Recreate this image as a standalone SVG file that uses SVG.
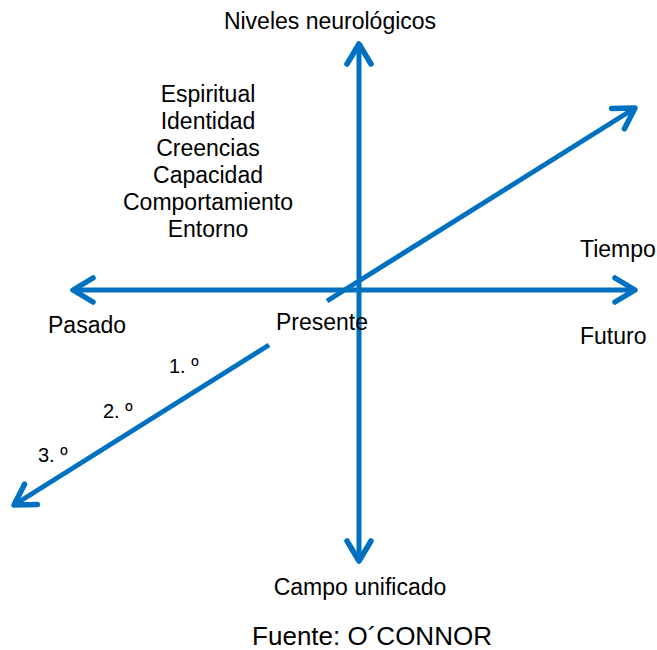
<svg xmlns="http://www.w3.org/2000/svg" width="657" height="650" viewBox="0 0 657 650">
<defs>
<style>
.ax{stroke:#0070C0;stroke-width:5;fill:none;stroke-linecap:butt}
.t{font-family:"Liberation Sans",Arial,sans-serif;font-size:23px;fill:#000}
.n{font-family:"Liberation Sans",Arial,sans-serif;font-size:20px;fill:#000}
</style>
<marker id="ah" markerUnits="userSpaceOnUse" viewBox="-26 -15 30 30" refX="0" refY="0" markerWidth="30" markerHeight="30" orient="auto-start-reverse">
<path d="M-20,-12 L0,0 L-20,12" fill="none" stroke="#0070C0" stroke-width="5.5" stroke-linejoin="round" stroke-linecap="round"/>
</marker>
</defs>
<rect width="657" height="650" fill="#fff"/>
<g id="connectors">
<line class="ax" x1="359" y1="561" x2="359" y2="44" marker-start="url(#ah)" marker-end="url(#ah)"/>
<line class="ax" x1="73" y1="290" x2="635" y2="290" marker-start="url(#ah)" marker-end="url(#ah)"/>
<line class="ax" x1="327" y1="301" x2="635" y2="108" marker-end="url(#ah)"/>
<line class="ax" x1="269" y1="345" x2="14" y2="505" marker-end="url(#ah)"/>
</g>
<g id="niveles"><text class="t" x="330" y="29" text-anchor="middle">Niveles neurológicos</text></g>
<g id="lista">
<text class="t" x="208" y="102" text-anchor="middle">Espiritual</text>
<text class="t" x="208" y="129" text-anchor="middle">Identidad</text>
<text class="t" x="208" y="156" text-anchor="middle">Creencias</text>
<text class="t" x="208" y="183" text-anchor="middle">Capacidad</text>
<text class="t" x="208" y="209.5" text-anchor="middle">Comportamiento</text>
<text class="t" x="208" y="236.5" text-anchor="middle">Entorno</text>
</g>
<g id="tiempo"><text class="t" x="580" y="257">Tiempo</text></g>
<g id="futuro"><text class="t" x="580" y="344">Futuro</text></g>
<g id="pasado"><text class="t" x="48" y="333">Pasado</text></g>
<g id="presente"><text class="t" x="322" y="330" text-anchor="middle">Presente</text></g>
<g id="campo"><text class="t" x="360" y="595" text-anchor="middle">Campo unificado</text></g>
<g id="orden">
<text class="n" x="169" y="373">1. º</text>
<text class="n" x="103" y="418">2. º</text>
<text class="n" x="38" y="462">3. º</text>
</g>
<g id="fuente"><text class="t" x="372" y="645" text-anchor="middle" style="font-size:26px">Fuente: O´CONNOR</text></g>
</svg>
